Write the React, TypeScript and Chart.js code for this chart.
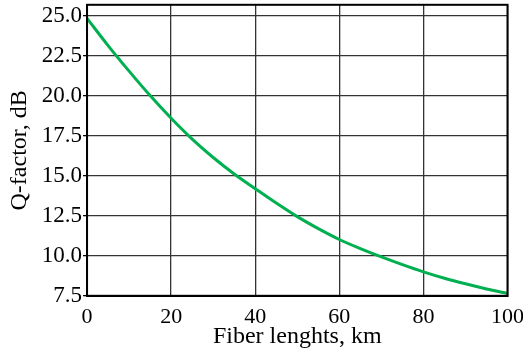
import React, { useEffect, useRef } from "react";
import { Chart, registerables } from "chart.js";

Chart.register(...registerables);

const fiberLength = [0, 5, 10, 15, 20, 25, 30, 35, 40, 45, 50, 55, 60, 65, 70, 75, 80, 85, 90, 95, 100];
const qFactor = [24.85, 23.15, 21.55, 20.02, 18.6, 17.3, 16.15, 15.12, 14.2, 13.3, 12.45, 11.7, 11.02, 10.45, 9.93, 9.45, 9.0, 8.6, 8.25, 7.93, 7.65];
const yTickValues = [7.5, 10.0, 12.5, 15.0, 17.5, 20.0, 22.5, 25.0];
const xTickValues = [0, 20, 40, 60, 80, 100];

const FONT = "'Liberation Serif', 'Times New Roman', serif";

const frame = {
  id: "frame",
  afterDraw(chart: any) {
    const { ctx, chartArea } = chart;
    ctx.save();
    ctx.strokeStyle = "#000";
    ctx.lineWidth = 2;
    ctx.strokeRect(chartArea.left, chartArea.top, chartArea.right - chartArea.left, chartArea.bottom - chartArea.top);
    ctx.restore();
  },
};

const CW = 527;
const CH = 366;

export default function App() {
  const ref = useRef<HTMLCanvasElement>(null);
  useEffect(() => {
    if (!ref.current) return;
    const chart = new Chart(ref.current, {
      type: "line",
      data: {
        datasets: [
          {
            data: fiberLength.map((x, i) => ({ x, y: qFactor[i] })),
            borderColor: "#00b050",
            borderWidth: 3,
            pointRadius: 0,
            cubicInterpolationMode: "monotone",
            fill: false,
          },
        ],
      },
      options: {
        animation: false,
        responsive: false,
        maintainAspectRatio: false,
        layout: { padding: 0 },
        plugins: { legend: { display: false }, tooltip: { enabled: false } },
        scales: {
          x: {
            type: "linear",
            min: 0,
            max: 100,
            afterBuildTicks: (s: any) => {
              s.ticks = xTickValues.map((v) => ({ value: v }));
            },
            grid: { color: "#333", lineWidth: 1.3, drawTicks: false },
            border: { color: "#000", width: 2 },
            ticks: { color: "#000", font: { family: FONT, size: 22 }, padding: 8, maxRotation: 0 },
            title: {
              display: true,
              text: "Fiber lenghts, km",
              color: "#000",
              font: { family: FONT, size: 24 },
              padding: { top: -16, bottom: 5 },
            },
          },
          y: {
            type: "linear",
            min: 7.5,
            max: 25.7,
            afterBuildTicks: (s: any) => {
              s.ticks = yTickValues.map((v) => ({ value: v }));
            },
            grid: { color: "#333", lineWidth: 1.3, tickLength: 4, tickColor: "#000" },
            border: { color: "#000", width: 2 },
            ticks: {
              color: "#000",
              font: { family: FONT, size: 23 },
              padding: 1,
              callback: (v: any) => Number(v).toFixed(1),
            },
            title: {
              display: true,
              text: "Q-factor, dB",
              color: "#000",
              font: { family: FONT, size: 24 },
              padding: { top: 0, bottom: 7 },
            },
          },
        },
      },
      plugins: [frame],
    });
    return () => chart.destroy();
  }, []);
  return (
    <div style={{ position: "fixed", left: 0, top: 0, width: 523, height: 352, background: "#fff", overflow: "hidden" }}>
      <canvas
        ref={ref}
        width={CW}
        height={CH}
        style={{ position: "absolute", left: 5, top: -10, display: "block", width: CW, height: CH }}
      />
    </div>
  );
}
